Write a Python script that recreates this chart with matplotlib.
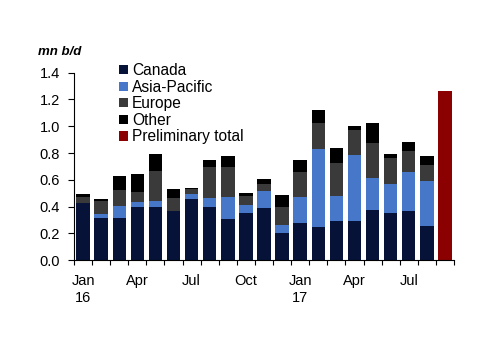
import numpy as np
import matplotlib
matplotlib.use("Agg")
import matplotlib.pyplot as plt

plt.rcParams['font.family'] = ['Liberation Sans', 'DejaVu Sans']

# monthly values, Jan 2016 - Aug 2017 (mn b/d)
months = ["Jan\n16", "", "", "Apr", "", "", "Jul", "", "", "Oct", "", "",
          "Jan\n17", "", "", "Apr", "", "", "Jul", ""]
canada = [0.43, 0.315, 0.315, 0.395, 0.395, 0.37, 0.46, 0.395, 0.305, 0.353,
          0.387, 0.203, 0.278, 0.245, 0.295, 0.295, 0.375, 0.355, 0.368, 0.253]
asia = [0.0, 0.03, 0.09, 0.037, 0.045, 0.0, 0.033, 0.067, 0.17, 0.06,
        0.127, 0.06, 0.197, 0.586, 0.182, 0.491, 0.239, 0.215, 0.288, 0.341]
europe = [0.045, 0.095, 0.12, 0.08, 0.229, 0.095, 0.037, 0.237, 0.219, 0.065,
          0.058, 0.132, 0.181, 0.192, 0.249, 0.189, 0.259, 0.191, 0.157, 0.12]
other = [0.02, 0.017, 0.103, 0.132, 0.125, 0.067, 0.008, 0.05, 0.087, 0.025,
         0.035, 0.092, 0.095, 0.1, 0.113, 0.03, 0.152, 0.033, 0.067, 0.062]
prelim_total = 1.26  # Sep 2017

colors = {
    "Canada": "#061237",
    "Asia-Pacific": "#4777c9",
    "Europe": "#3a3a3a",
    "Other": "#000000",
    "Preliminary total": "#8b0000",
}

fig = plt.figure(figsize=(5, 3.53), dpi=100)
ax = fig.add_axes([0.148, 0.263, 0.76, 0.531])

x = np.arange(len(canada))
w = 0.74
bottom = np.zeros(len(canada))
for name, vals in [("Canada", canada), ("Asia-Pacific", asia),
                   ("Europe", europe), ("Other", other)]:
    ax.bar(x, vals, w, bottom=bottom, color=colors[name], label=name)
    bottom += np.array(vals)
ax.bar([len(canada)], [prelim_total], w, color=colors["Preliminary total"],
       label="Preliminary total")

ax.set_xlim(-0.5, len(canada) + 0.5)
ax.set_ylim(0, 1.4)
ax.set_yticks(np.arange(0, 1.41, 0.2))
ax.set_yticklabels([f"{v:.1f}" for v in np.arange(0, 1.41, 0.2)], fontsize=10.5)

lab_pos = [i for i, m in enumerate(months) if m]
ax.set_xticks(lab_pos)
ax.set_xticklabels([months[i] for i in lab_pos], fontsize=10.5, linespacing=1.3)
ax.set_xticks(np.arange(-0.5, len(canada) + 1, 1), minor=True)
ax.tick_params(axis="x", which="major", length=0, pad=10)
ax.tick_params(axis="x", which="minor", length=3.5, direction="out", width=0.8)
ax.tick_params(axis="y", length=4, width=0.8, pad=6)

for s in ["top", "right"]:
    ax.spines[s].set_visible(False)
for s in ["left", "bottom"]:
    ax.spines[s].set_linewidth(0.8)

fig.text(0.076, 0.853, "mn b/d", fontsize=9.5, fontweight="bold",
         style="italic", va="center")

ax.legend(loc="upper left", bbox_to_anchor=(0.238, 0.821),
          bbox_transform=fig.transFigure, frameon=False, fontsize=11.2,
          handlelength=0.55, handleheight=0.55, handletextpad=0.3,
          labelspacing=0.1, borderaxespad=0, borderpad=0)

fig.savefig("out.png", dpi=100)
